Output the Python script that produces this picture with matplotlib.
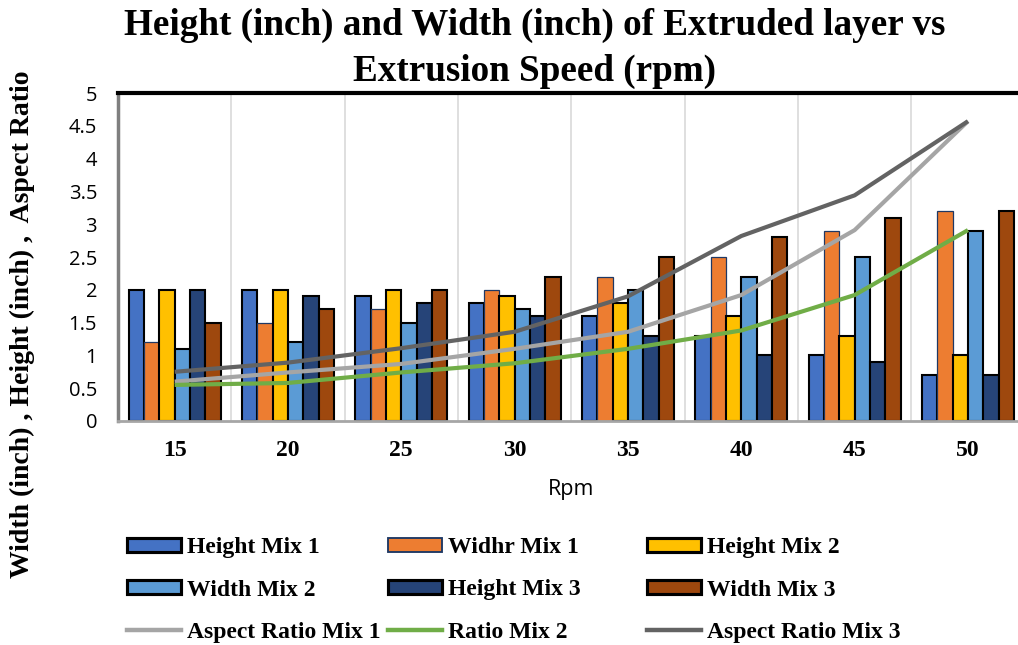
import matplotlib
matplotlib.use("Agg")
import matplotlib.pyplot as plt
import numpy as np
from matplotlib.patches import Patch
from matplotlib.lines import Line2D

rpm = ["15", "20", "25", "30", "35", "40", "45", "50"]

height_mix1 = [2.0, 2.0, 1.9, 1.8, 1.6, 1.3, 1.0, 0.7]
width_mix1 = [1.2, 1.5, 1.7, 2.0, 2.2, 2.5, 2.9, 3.2]
height_mix2 = [2.0, 2.0, 2.0, 1.9, 1.8, 1.6, 1.3, 1.0]
width_mix2 = [1.1, 1.2, 1.5, 1.7, 2.0, 2.2, 2.5, 2.9]
height_mix3 = [2.0, 1.9, 1.8, 1.6, 1.3, 1.0, 0.9, 0.7]
width_mix3 = [1.5, 1.7, 2.0, 2.2, 2.5, 2.8, 3.1, 3.2]

aspect_mix1 = [0.60, 0.74, 0.87, 1.10, 1.36, 1.92, 2.91, 4.57]
ratio_mix2 = [0.55, 0.58, 0.74, 0.88, 1.10, 1.38, 1.92, 2.91]
aspect_mix3 = [0.75, 0.89, 1.11, 1.36, 1.90, 2.82, 3.44, 4.57]

bar_series = [
    ("Height Mix 1", height_mix1, "#4472C4", "black", 1.5),
    ("Widhr Mix 1", width_mix1, "#ED7D31", "#1F3864", 0.9),
    ("Height Mix 2", height_mix2, "#FFC000", "black", 1.5),
    ("Width Mix 2", width_mix2, "#5B9BD5", "black", 1.5),
    ("Height Mix 3", height_mix3, "#264478", "black", 1.5),
    ("Width Mix 3", width_mix3, "#9E480E", "black", 1.5),
]
line_series = [
    ("Aspect Ratio Mix 1", aspect_mix1, "#A5A5A5"),
    ("Ratio Mix 2", ratio_mix2, "#70AD47"),
    ("Aspect Ratio Mix 3", aspect_mix3, "#636363"),
]

serif = "Liberation Serif"
sans = "Open Sans"

fig = plt.figure(figsize=(10.18, 6.45), dpi=100)
ax = fig.add_axes([0.1159, 0.3473, 0.8906, 0.5085])

x = np.arange(len(rpm))
n = len(bar_series)
bw = 0.135
handles = []
for i, (name, vals, color, ec, lw) in enumerate(bar_series):
    offs = (i - (n - 1) / 2) * bw
    ax.bar(x + offs, vals, width=bw, color=color, edgecolor=ec, linewidth=lw, zorder=2)
    handles.append(Patch(facecolor=color, edgecolor=ec, linewidth=lw * 1.5, label=name))

for name, vals, color in line_series:
    ax.plot(x, vals, color=color, linewidth=3, zorder=3, solid_capstyle="butt")
    handles.append(Line2D([0], [0], color=color, linewidth=3.2, label=name))

ax.set_xlim(-0.5, 7.5)
ax.set_ylim(0, 5)
ax.set_xticks(x)
ax.set_xticklabels(rpm, fontfamily=serif, fontweight="bold", fontsize=17)
ax.set_xticks(x[:-1] + 0.5, minor=True)
ax.grid(True, which="minor", axis="x", color="#D9D9D9", linewidth=1.2, zorder=0)
ax.tick_params(axis="x", which="both", length=0, pad=14)
yt = np.arange(0, 5.01, 0.5)
ax.set_yticks(yt)
ax.set_yticklabels([f"{v:g}" for v in yt], fontfamily=sans, fontsize=14.5)
ax.tick_params(axis="y", length=0, pad=15)

ax.spines["top"].set_linewidth(3)
ax.spines["top"].set_color("black")
ax.spines["left"].set_linewidth(2.5)
ax.spines["left"].set_color("#7F7F7F")
ax.spines["bottom"].set_linewidth(2)
ax.spines["bottom"].set_color("#A6A6A6")
ax.spines["right"].set_visible(False)

fig.text(571 / 1018, 1 - 490 / 645, "Rpm", ha="center", va="center",
         fontfamily=sans, fontsize=15.5)
fig.text(0.022, 0.498, "Width (inch) , Height (inch) ,  Aspect Ratio", rotation=90,
         ha="center", va="center", fontfamily=serif, fontweight="bold", fontsize=20)

title_lines = ["Height (inch) and Width (inch) of Extruded layer vs", "Extrusion Speed (rpm)"]
for line, base in zip(title_lines, [35, 81]):
    fig.text(0.5255, 1 - base / 645, line, ha="center", va="baseline",
             fontfamily=serif, fontweight="bold", fontsize=26.7)

# one legend per column so the columns sit at fixed positions
col_x = [127, 388, 647]
for c in range(3):
    hs = [handles[c], handles[c + 3], handles[c + 6]]
    lg = fig.legend(hs, [h.get_label() for h in hs], loc="center left",
                    bbox_to_anchor=(col_x[c] / 1018, 1 - 590 / 645),
                    frameon=False, prop={"family": serif, "weight": "bold", "size": 17},
                    handlelength=2.3, handleheight=0.55, handletextpad=0.25,
                    labelspacing=0.9, borderpad=0, borderaxespad=0)

fig.savefig("out.png", dpi=100)
